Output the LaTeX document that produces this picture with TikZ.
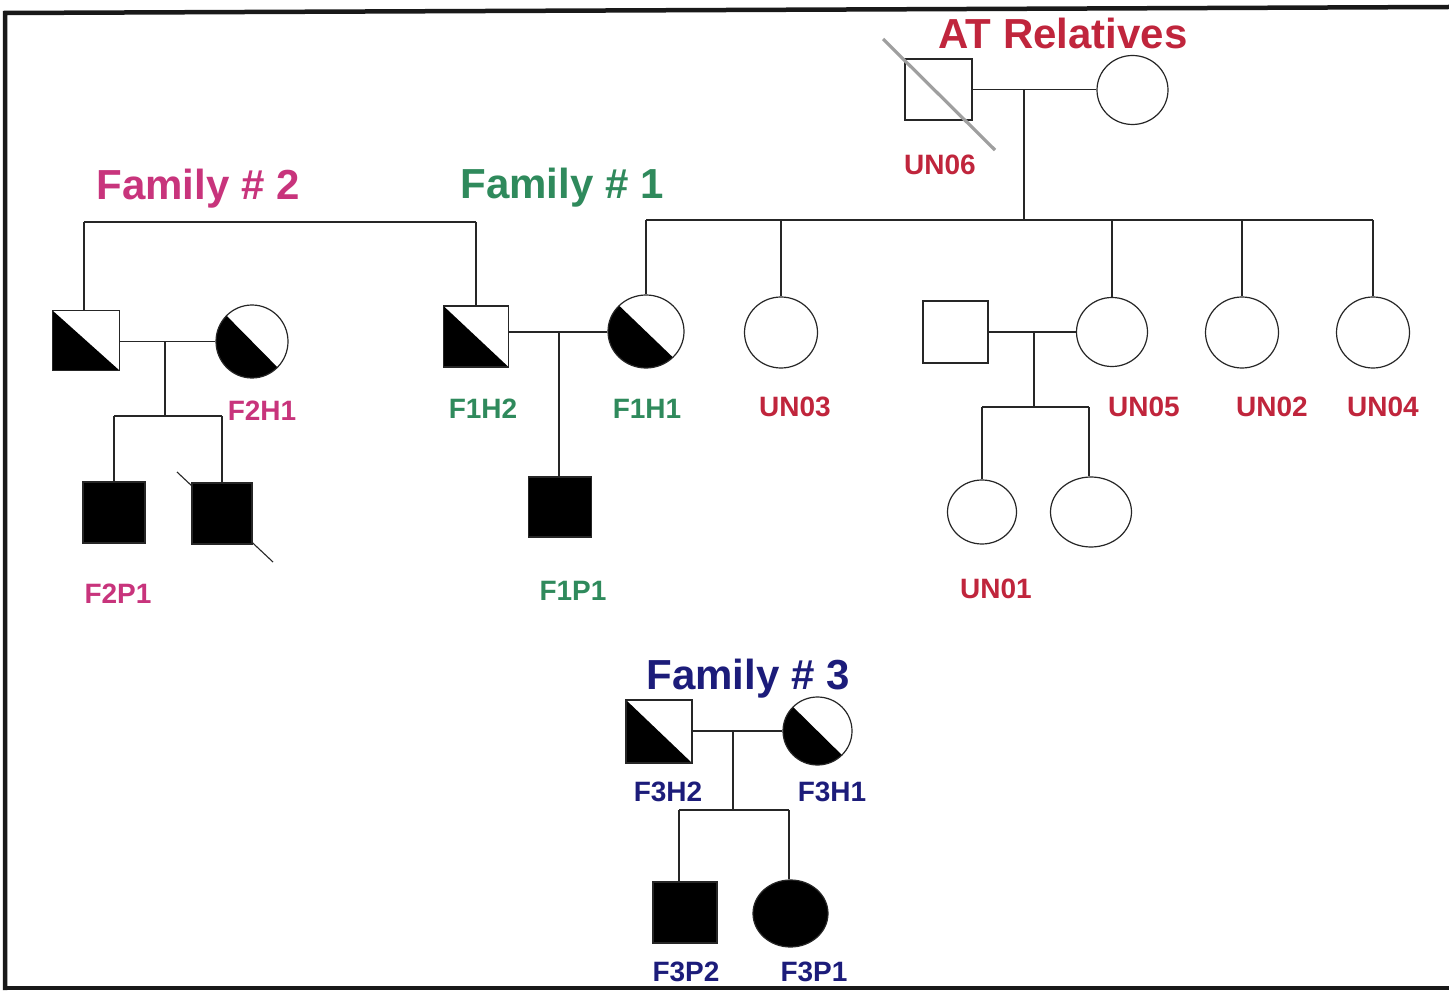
\documentclass[tikz,border=0pt]{standalone}
\usepackage{fontspec}
\setmainfont{Liberation Sans}
\usetikzlibrary{shapes.geometric}
\definecolor{atred}{HTML}{C0253C}
\definecolor{famtwo}{HTML}{C8347C}
\definecolor{famone}{HTML}{2F8A5C}
\definecolor{famthree}{HTML}{1C1C7A}
\tikzset{
  link/.style={draw=black!85, line width=1.2pt},
  sq/.style={rectangle, draw=black!85, line width=1.2pt, inner sep=0pt, fill=white},
  ci/.style={ellipse, draw=black!85, line width=1.2pt, inner sep=0pt, fill=white},
  half/.style={path picture={\fill[black] (path picture bounding box.north west) -- (path picture bounding box.south west) -- (path picture bounding box.south east) -- cycle;}},
  full/.style={fill=black},
  lab/.style={font=\fontsize{28}{30}\selectfont\bfseries, anchor=base, inner sep=0pt},
  ttl/.style={font=\fontsize{42}{44}\selectfont\bfseries, anchor=base, inner sep=0pt},
  frame/.style={line width=4.5pt, black!90}
}
\begin{document}
\begin{tikzpicture}[x=1pt, y=-1pt]
\useasboundingbox (0,0) rectangle (1449,992);
\fill[white] (0,0) rectangle (1449,992);
% frame
\draw[frame] (5,990) -- (5,13) -- (1449,7);
\draw[frame] (3,988) -- (1449,988);

% ---------- AT relatives ----------
\node[sq, minimum width=67pt, minimum height=61pt] (un06) at (938.5,89.5) {};
\node[ci, minimum width=71pt, minimum height=69pt] (un06w) at (1132.5,90) {};
\draw[gray!75, line width=3.2pt] (883,39) -- (995,150);
\coordinate (atm) at (1024,89.5);
\coordinate (atsib) at (1024,220);
\draw[link] (un06.east) -- (atm -| un06w.west);
\draw[link] (atm) -- (atsib);

\node[ci, half, minimum width=76pt, minimum height=73pt] (f1h1) at (646,331.5) {};
\node[ci, minimum width=73pt, minimum height=71pt] (un03) at (781,332.5) {};
\node[ci, minimum width=71pt, minimum height=69pt] (un05) at (1112,332) {};
\node[ci, minimum width=73pt, minimum height=71pt] (un02) at (1242,332.5) {};
\node[ci, minimum width=73pt, minimum height=71pt] (un04) at (1373,332.5) {};
\draw[link] (f1h1.north |- atsib) -- (un04.north |- atsib);
\foreach \c in {f1h1,un03,un05,un02,un04} \draw[link] (\c.north |- atsib) -- (\c.north);

% UN05 family
\node[sq, minimum width=65pt, minimum height=62pt] (unh) at (955.5,332) {};
\coordinate (um) at (1034,332);
\coordinate (usib) at (1034,407);
\draw[link] (unh.east) -- (un05.west);
\draw[link] (um) -- (usib);
\node[ci, minimum width=69pt, minimum height=64pt] (un01) at (982,512) {};
\node[ci, minimum width=81pt, minimum height=70pt] (un07) at (1091,512) {};
\coordinate (usL) at (982,407);
\coordinate (usR) at (1089,407);
\draw[link] (usL) -- (usR);
\draw[link] (usL) -- (usL |- un01.north);
\draw[link] (usR) -- (usR |- un07.north);

% ---------- Families 1 and 2 sibship ----------
\node[sq, half, minimum width=67pt, minimum height=60pt] (f2h) at (86,340.5) {};
\node[sq, half, minimum width=65pt, minimum height=61pt] (f1h2) at (476,336.5) {};
\coordinate (s12L) at (84,222);
\coordinate (s12R) at (476,222);
\draw[link] (s12L) -- (s12R);
\draw[link] (s12L) -- (s12L |- f2h.north);
\draw[link] (s12R) -- (f1h2.north);

% Family 2
\node[ci, half, minimum width=72pt, minimum height=73pt] (f2h1) at (252,341.5) {};
\coordinate (m2) at (165,341.5);
\coordinate (s2) at (165,416);
\draw[link] (f2h.east |- m2) -- (f2h1.west);
\draw[link] (m2) -- (s2);
\coordinate (d1) at (177,472);
\coordinate (d2) at (273,562);
\draw[black!85, line width=1.1pt] (d1) -- (d2);
\node[sq, full, minimum width=62pt, minimum height=61pt] (f2p1) at (114,512.5) {};
\node[sq, full, minimum width=60pt, minimum height=61pt] (f2p2) at (222,513.5) {};
\draw[link] (f2p1.north |- s2) -- (f2p2.north |- s2);
\draw[link] (f2p1.north |- s2) -- (f2p1.north);
\draw[link] (f2p2.north |- s2) -- (f2p2.north);

% Family 1
\coordinate (m1) at (559,332);
\draw[link] (f1h2.east |- m1) -- (m1 -| f1h1.west);
\node[sq, full, minimum width=63pt, minimum height=60pt] (f1p1) at (560,507) {};
\draw[link] (m1) -- (m1 |- f1p1.north);

% Family 3
\node[sq, half, minimum width=66pt, minimum height=63pt] (f3h2) at (659,731.5) {};
\node[ci, half, minimum width=69pt, minimum height=68pt] (f3h1) at (817.5,731) {};
\coordinate (m3) at (733,731);
\coordinate (s3) at (733,810);
\draw[link] (f3h2.east |- m3) -- (m3 -| f3h1.west);
\draw[link] (m3) -- (s3);
\node[sq, full, minimum width=64pt, minimum height=61pt] (f3p2) at (685,912.5) {};
\node[ci, full, minimum width=75pt, minimum height=67pt] (f3p1) at (790.5,913.5) {};
\coordinate (s3L) at (679,810);
\coordinate (s3R) at (789,810);
\draw[link] (s3L) -- (s3R);
\draw[link] (s3L) -- (s3L |- f3p2.north);
\draw[link] (s3R) -- (s3R |- f3p1.north);

% ---------- Titles ----------
\node[ttl, text=atred] (tat) at (1063,49) {AT Relatives};
\node[ttl, text=famtwo] (tf2) at (198,200) {Family \# 2};
\node[ttl, text=famone] (tf1) at (562,199) {Family \# 1};
\node[ttl, text=famthree] (tf3) at (748,689) {Family \# 3};

% ---------- Labels ----------
\node[lab, text=atred] (lun06) at (940,175) {UN06};
\node[lab, text=atred] (lun03) at (795,416) {UN03};
\node[lab, text=atred] (lun05) at (1144,416) {UN05};
\node[lab, text=atred] (lun02) at (1272,416) {UN02};
\node[lab, text=atred] (lun04) at (1383,416) {UN04};
\node[lab, text=atred] (lun01) at (996,598) {UN01};
\node[lab, text=famtwo] (lf2h1) at (262,420) {F2H1};
\node[lab, text=famtwo] (lf2p1) at (118,603) {F2P1};
\node[lab, text=famone] (lf1h2) at (483,418) {F1H2};
\node[lab, text=famone] (lf1h1) at (647,418) {F1H1};
\node[lab, text=famone] (lf1p1) at (573,600) {F1P1};
\node[lab, text=famthree] (lf3h2) at (668,801) {F3H2};
\node[lab, text=famthree] (lf3h1) at (832,801) {F3H1};
\node[lab, text=famthree] (lf3p2) at (686,981) {F3P2};
\node[lab, text=famthree] (lf3p1) at (814,981) {F3P1};
\end{tikzpicture}
\end{document}
